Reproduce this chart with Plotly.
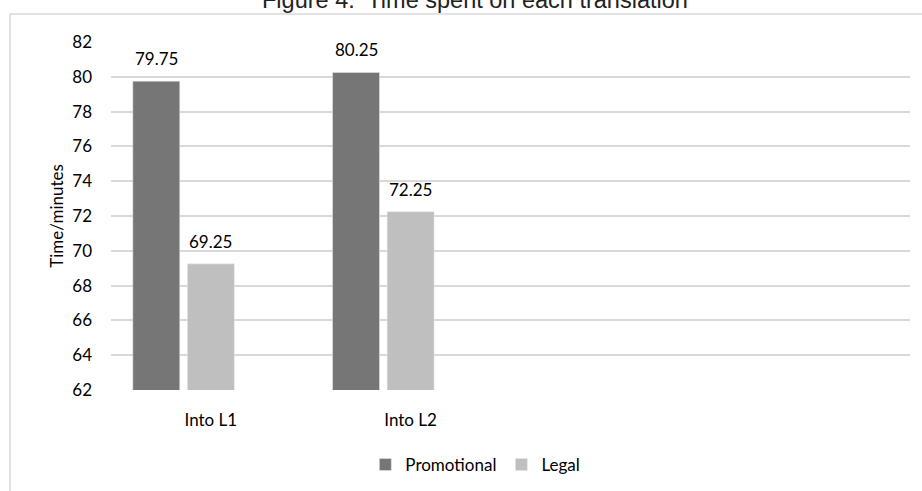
import plotly.graph_objects as go

# Figure 4 data
categories = ["Into L1", "Into L2"]
cat_pos = [0, 1]
promotional = [79.75, 80.25]
legal = [69.25, 72.25]
y_ticks = list(range(62, 84, 2))

FONT = "Lato, 'Open Sans', sans-serif"
BARGAP = 0.18
N_SERIES = 3  # the source chart has a third, empty series

fig = go.Figure()
fig.add_trace(go.Bar(x=cat_pos, y=promotional, name="Promotional",
                     marker_color="#767676"))
fig.add_trace(go.Bar(x=cat_pos, y=legal, name="Legal",
                     marker_color="#bfbfbf"))
# empty third series (keeps the group layout like the original)
fig.add_trace(go.Bar(x=cat_pos, y=[None, None], name="", showlegend=False,
                     marker_color="#a0a0a0", hoverinfo="skip"))

# data labels, a bit above the bars as in the original
slot = (1 - BARGAP) / N_SERIES
for i, series in enumerate([promotional, legal]):
    for c, v in zip(cat_pos, series):
        fig.add_annotation(x=c + (i - 1) * slot, y=v, text=f"{v:.2f}",
                           xref="x", yref="y", showarrow=False,
                           yanchor="bottom", yshift=10,
                           font=dict(family=FONT, size=17, color="#000000"))

fig.update_layout(
    width=922, height=491,
    margin=dict(l=111, r=12, t=42, b=101, autoexpand=False),
    paper_bgcolor="white", plot_bgcolor="white",
    barmode="group", bargap=BARGAP, bargroupgap=0.14,
    font=dict(family=FONT, size=17, color="#000000"),
    legend=dict(orientation="h", x=0.456, xanchor="center", y=-0.2155, yanchor="middle",
                font=dict(size=17), bgcolor="rgba(0,0,0,0)"),
    showlegend=True,
)

fig.update_xaxes(range=[-0.5, 3.5], tickvals=cat_pos, ticktext=categories,
                 showgrid=False, zeroline=False, showline=False, automargin=False,
                 ticklabelstandoff=18, tickfont=dict(size=17))
fig.update_yaxes(range=[62, 82], tickvals=y_ticks,
                 showgrid=True, gridcolor="#d9d9d9", gridwidth=2,
                 zeroline=False, showline=False, automargin=False,
                 ticklabelstandoff=18, tickfont=dict(size=17),
                 title=dict(text="Time/minutes", font=dict(size=17), standoff=4))

# chart area border (runs off the right and bottom like the source)
fig.add_shape(type="rect", xref="paper", yref="paper",
              x0=-0.1264, x1=1.1, y0=-0.5, y1=1.0805,
              line=dict(color="#d9d9d9", width=1.5), fillcolor="rgba(0,0,0,0)", layer="below")

# figure caption (cut at the top of the image)
fig.add_annotation(text="Figure 4.  Time spent on each translation",
                   xref="paper", yref="paper", x=0.455, y=1.12,
                   xanchor="center", yanchor="middle", showarrow=False,
                   font=dict(family="'Liberation Sans', Arial, sans-serif", size=23.5, color="#222222"))

# page has a default body margin; drop it so the figure sits at the corner
fig.write_html("out.html", config={"displayModeBar": False},
               post_script="document.body.style.margin='0';")
